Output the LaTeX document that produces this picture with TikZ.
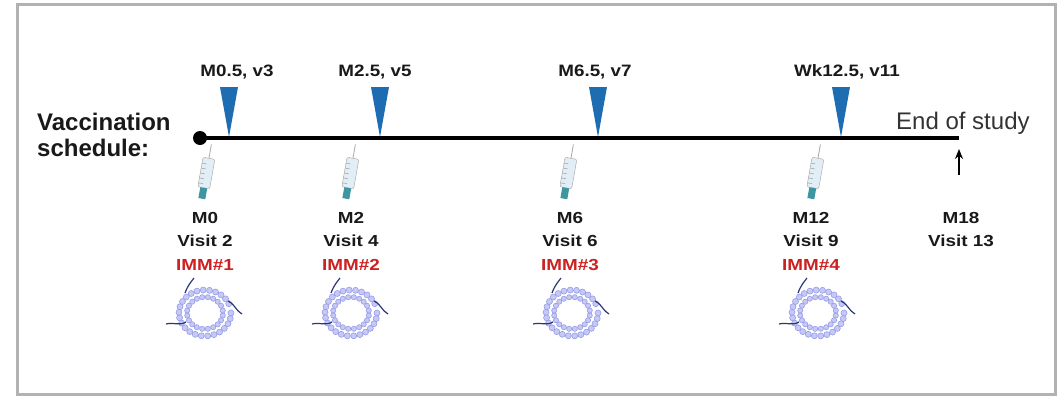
\documentclass[tikz,border=0pt]{standalone}
\usepackage{fontspec}
\setmainfont{Liberation Sans}
\newfontfamily\widesans[FakeStretch=1.18]{Liberation Sans}
\newfontfamily\marksans[FakeStretch=1.14]{Liberation Sans}
\usetikzlibrary{positioning,arrows.meta}
\definecolor{markblue}{RGB}{30,108,178}
\definecolor{immred}{RGB}{205,32,32}
\definecolor{lipofill}{RGB}{198,200,245}
\definecolor{lipoedge}{RGB}{150,156,232}
\definecolor{tailblue}{RGB}{40,55,120}
\definecolor{barrel}{RGB}{226,238,246}
\definecolor{plunger}{RGB}{62,150,162}
\definecolor{framegray}{RGB}{178,178,178}

\tikzset{
	syringe/.pic={
		\begin{scope}[rotate=-10]
			\draw[gray!70,line width=0.8] (0,-31) -- (0,-17);
			\draw[gray!75,fill=barrel,rounded corners=2] (-6,-17) rectangle (6,13);
			\foreach \t in {-11,-6,...,9}
				\draw[gray!70,line width=0.6] (-6,\t) -- (-1.5,\t);
			\fill[plunger] (-3.5,13) rectangle (3.5,24);
		\end{scope}
	},
	liposome/.pic={
		\foreach \a in {0,14,...,346}
			\draw[lipoedge,fill=lipofill,line width=0.6] (\a:26 and 23) circle (3);
		\foreach \a in {9,27,...,351}
			\draw[lipoedge,fill=lipofill,line width=0.6] (\a:18 and 16) circle (2.6);
		\draw[tailblue,line width=1.2] (-20,-20) .. controls (-17,-28) and (-14,-31) .. (-11,-35);
		\draw[tailblue,line width=1.2] (23,-12) .. controls (29,-10) and (31,-2) .. (37,1);
		\draw[tailblue,line width=1.2] (-19,9) .. controls (-26,13) and (-31,9) .. (-39,11);
	}
}

\begin{document}
\begin{tikzpicture}[
	x=1pt, y=-1pt,
	dot/.style={circle,fill=black,inner sep=0pt,minimum size=14pt},
	timeline/.style={line width=4pt},
	toplbl/.style={anchor=base,inner sep=0pt,text=black!90,
		font=\marksans\bfseries\fontsize{16.5}{20}\selectfont},
	dose/.style={anchor=north,align=center,inner sep=0pt,text=black!90,
		font=\widesans\bfseries\fontsize{16}{23.5}\selectfont},
	endarrow/.style={line width=2pt,-{Stealth[length=10pt,width=8pt]},shorten >=11pt}]
\useasboundingbox (0,0) rectangle (1063,397);
\draw[framegray,line width=3pt] (17,4) rectangle (1055,394);

\node[anchor=north west,align=left,inner sep=0pt,text=black!90,
	font=\bfseries\fontsize{24}{26}\selectfont] (title) at (37,113) {Vaccination\\schedule:};

\foreach \x/\n/\txt/\lx in {229/m05/{M0.5, v3}/237, 380/m25/{M2.5, v5}/375,
		598/m65/{M6.5, v7}/595, 841/w125/{Wk12.5, v11}/847} {
	\fill[markblue] (\x-9,87) -- (\x+9,87) -- (\x,137) -- cycle;
	\node[toplbl] (\n) at (\lx,76) {\txt};
}

\node[dot] (start) at (200,138) {};
\coordinate (stop) at (959,138);
\draw[timeline] (start.center) -- (stop);
\node[anchor=base west,inner sep=0pt,text=black!80,
	font=\fontsize{24}{28}\selectfont] (endlbl) at (896,129) {End of study};

\foreach \sx/\lx/\px/\m/\v/\k in {206/205/205/M0/2/1, 350/351/351/M2/4/2,
		568/570/572/M6/6/3, 815/811/818/M12/9/4} {
	\pic at (\sx,175) {syringe};
	\node[dose] (imm\k) at (\lx,212) {\m\\Visit \v\\\textcolor{immred}{IMM\#\k}};
	\pic at (\px,313) {liposome};
}

\node[dose] (m18) at (961,212) {M18\\Visit 13};
\coordinate (arrowfoot) at (959,175);
\draw[endarrow] (arrowfoot) -- (stop);
\end{tikzpicture}
\end{document}
